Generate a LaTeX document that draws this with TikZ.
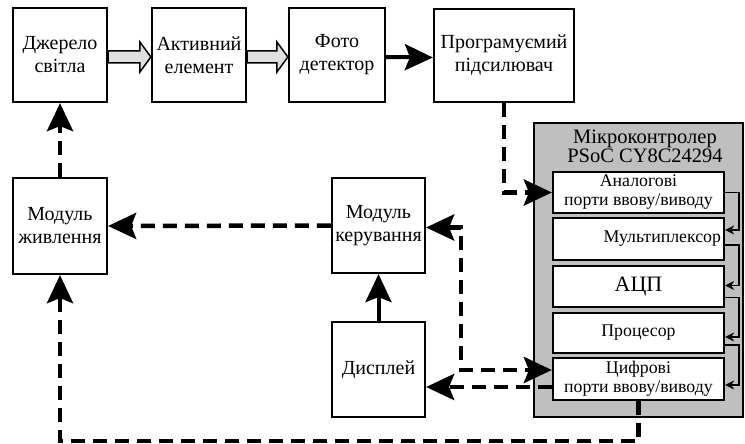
\documentclass[tikz,border=0pt]{standalone}
\usepackage{fontspec}
\setmainfont{Liberation Serif}
\usetikzlibrary{arrows.meta,calc}

\tikzset{
  blok/.style={draw, line width=2.2pt, fill=white, align=center, inner sep=1pt,
    font=\fontsize{20}{23}\selectfont},
  port/.style={draw, line width=2.2pt, fill=white, align=center, inner sep=1pt,
    minimum width=171pt, font=\fontsize{17.8}{19}\selectfont},
  shtryh/.style={line width=4.5pt, dash pattern=on 14pt off 8pt},
  strilka/.style={-{Stealth[length=28pt,width=26pt,inset=5pt]}},
  dvi/.style={{Stealth[length=28pt,width=26pt,inset=5pt]}-{Stealth[length=28pt,width=26pt,inset=5pt]}},
  mala/.style={line width=1.5pt, -{Stealth[length=9pt,width=9pt]}},
  sira/.style={draw, line width=1.5pt, fill=gray!25, line join=miter},
}

\begin{document}
\begin{tikzpicture}[x=1pt,y=-1pt]
\useasboundingbox (0,0) rectangle (745,444);

% top row
\node[blok, minimum width=94pt, minimum height=94pt] (dz) at (60,55) {Джерело\\світла};
\node[blok, minimum width=94pt, minimum height=94pt] (ae) at (199,55) {Активний\\елемент};
\node[blok, minimum width=96pt, minimum height=94pt] (fd) at (337,55) {Фото\\детектор};
\node[blok, minimum width=140pt, minimum height=93pt] (ps) at (504,55.5) {Програмуємий\\підсилювач};

% microcontroller
\node[draw, line width=2.2pt, fill=gray!50, minimum width=209pt, minimum height=294pt] (mk) at (638.5,270) {};
\node[align=center, font=\fontsize{20.5}{19}\selectfont] (mkt) at (645,146) {Мікроконтролер\\PSoC CY8C24294};

\node[port, minimum height=41pt] (an) at (638.5,192.5) {Аналогові\\порти ввову/виводу};
\node[port, minimum height=42pt, text width=165pt, align=right] (mx) at (638.5,239) {Мультиплексор};
\node[port, minimum height=41pt, font=\fontsize{22}{23}\selectfont] (acp) at (638.5,286.5) {АЦП};
\node[port, minimum height=40pt] (pr) at (638.5,333) {Процесор};
\node[port, minimum height=42pt] (cf) at (638.5,379) {Цифрові\\порти ввову/виводу};

% left and middle blocks
\node[blok, minimum width=94pt, minimum height=96pt] (mz) at (60,226) {Модуль\\живлення};
\node[blok, minimum width=93pt, minimum height=95pt] (mkr) at (378.5,225.5) {Модуль\\керування};
\node[blok, minimum width=93pt, minimum height=95pt] (dp) at (378.5,369.5) {Дисплей};

% light path
\draw[sira] ($(dz.east)+(0,-4)$) -- ($(ae.west)+(-11,-4)$) -- ($(ae.west)+(-11,-13)$)
  -- ($(ae.west)+(0,2)$) -- ($(ae.west)+(-11,17)$) -- ($(ae.west)+(-11,8)$)
  -- ($(dz.east)+(0,8)$) -- cycle;
\draw[sira] ($(ae.east)+(0,-4)$) -- ($(fd.west)+(-11,-4)$) -- ($(fd.west)+(-11,-13)$)
  -- ($(fd.west)+(0,2)$) -- ($(fd.west)+(-11,17)$) -- ($(fd.west)+(-11,8)$)
  -- ($(ae.east)+(0,8)$) -- cycle;
\draw[line width=4pt, strilka] ($(fd.east)+(0,2)$) -- ($(ps.west)+(0,2)$);

% inside microcontroller
\draw[mala] ($(an.east)+(0,0)$) -- ++(14,0) |- ($(mx.east)+(0,-9)$);
\draw[mala] ($(mx.east)+(0,6)$) -- ++(14,0) |- ($(acp.east)+(0,-1)$);
\draw[mala] ($(acp.east)+(0,11)$) -- ++(14,0) |- ($(pr.east)+(0,4)$);
\draw[mala] ($(pr.east)+(0,12)$) -- ++(14,0) |- ($(cf.east)+(0,6)$);

% dashed links
\draw[shtryh, strilka] (ps.south) |- (an.west);
\draw[shtryh, strilka] (mkr.west) -- (mz.east);
\draw[shtryh, strilka] (mz.north) -- (dz.south);
\draw[line width=4pt, strilka] (dp.north) -- (mkr.south);
\draw[shtryh, strilka] (cf.south) -- ++(0,40) -| (mz.south);
\draw[shtryh, dvi] ($(mkr.east)+(0,2)$) -- ++(35,0) |- ($(cf.west)+(0,-9)$);
\coordinate (cfo) at ($(cf.west)+(0,8)$);
\draw[shtryh, strilka] (cfo) -- (cfo -| dp.east);

\end{tikzpicture}
\end{document}
